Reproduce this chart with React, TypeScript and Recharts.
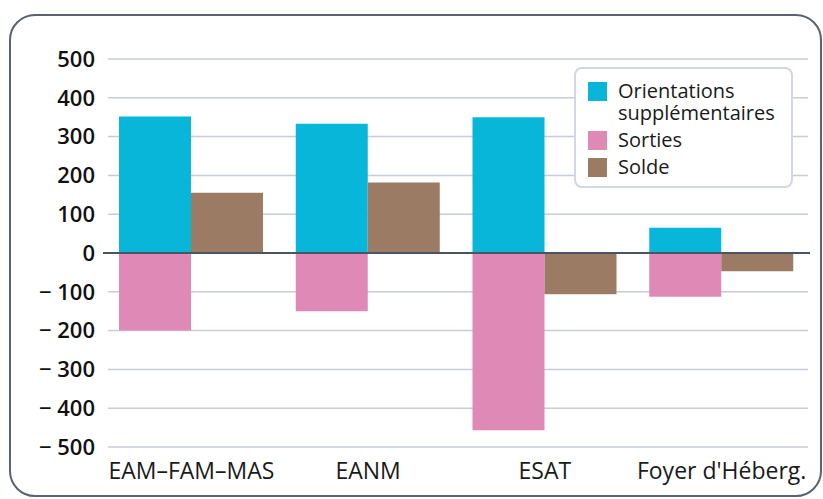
import {
  BarChart,
  Bar,
  XAxis,
  YAxis,
  CartesianGrid,
  ReferenceLine,
  Legend,
} from "recharts";

const categories = ["EAM–FAM–MAS", "EANM", "ESAT", "Foyer d'Héberg."];
const orientations = [352, 333, 350, 65];
const sorties = [-200, -150, -457, -113];
const solde = [155, 182, -106, -47];
const yTicks = [-500, -400, -300, -200, -100, 0, 100, 200, 300, 400, 500];

const series = [
  { key: "orientations", label: ["Orientations", "supplémentaires"], color: "#08b6da" },
  { key: "sorties", label: ["Sorties"], color: "#de89b6" },
  { key: "solde", label: ["Solde"], color: "#9b7b63" },
];

const data = categories.map((name, i) => ({
  name,
  orientations: orientations[i],
  sorties: sorties[i],
  solde: solde[i],
}));

const font = "'Open Sans', sans-serif";

function formatTick(v: number) {
  return v < 0 ? `\u2212 ${Math.abs(v)}` : `${v}`;
}

function LegendBox() {
  return (
    <div
      style={{
        boxSizing: "border-box",
        width: 219,
        height: 121,
        border: "2px solid #d3d7e0",
        borderRadius: 8,
        background: "#fff",
        padding: "11px 0 0 12px",
        fontFamily: font,
        fontSize: 20,
        color: "#1a1a1a",
      }}
    >
      {series.map((s) => (
        <div
          key={s.key}
          style={{ display: "flex", alignItems: "flex-start", marginBottom: 5 }}
        >
          <div
            style={{
              width: 19,
              height: 19,
              background: s.color,
              marginTop: 2,
              marginRight: 11,
              flexShrink: 0,
            }}
          />
          <div style={{ lineHeight: "22px" }}>
            {s.label.map((l) => (
              <div key={l}>{l}</div>
            ))}
          </div>
        </div>
      ))}
    </div>
  );
}

export default function App() {
  return (
    <div style={{ position: "absolute", left: 0, top: 0, width: 823, height: 499, background: "#fff" }}>
      <div
        style={{
          position: "absolute",
          left: 9,
          top: 14,
          width: 813,
          height: 483,
          boxSizing: "border-box",
          border: "2px solid #5a6372",
          borderRadius: 26,
        }}
      />
      <div style={{ position: "absolute", left: 0, top: 0 }}>
        <BarChart
          width={823}
          height={499}
          data={data}
          stackOffset="sign"
          barGap={0}
          margin={{ top: 59, right: 13, bottom: 22, left: 0 }}
        >
          <CartesianGrid
            vertical={false}
            stroke="#c8ccd7"
            strokeWidth={1.5}
            x={108}
            width={700}
          />
          <XAxis
            dataKey="name"
            axisLine={false}
            tickLine={false}
            tickMargin={10}
            height={30}
            interval={0}
            tick={{ fontFamily: font, fontSize: 23, fill: "#1a1a1a" }}
          />
          <YAxis
            width={103}
            domain={[-500, 500]}
            ticks={yTicks}
            axisLine={false}
            tickLine={false}
            tickFormatter={formatTick}
            tick={{ fontFamily: font, fontSize: 22, fontWeight: 600, fill: "#111" }}
          />
          <ReferenceLine y={0} stroke="#4b5463" strokeWidth={2} />
          <Bar dataKey="orientations" stackId="a" barSize={72} fill="#08b6da" isAnimationActive={false} />
          <Bar dataKey="sorties" stackId="a" barSize={72} fill="#de89b6" isAnimationActive={false} />
          <Bar dataKey="solde" barSize={72} fill="#9b7b63" isAnimationActive={false} />
          <Legend
            layout="horizontal"
            verticalAlign="middle"
            align="center"
            content={() => <LegendBox />}
            wrapperStyle={{ position: "absolute", left: 574, top: 67, width: 219, height: 121 }}
          />
        </BarChart>
      </div>
    </div>
  );
}
